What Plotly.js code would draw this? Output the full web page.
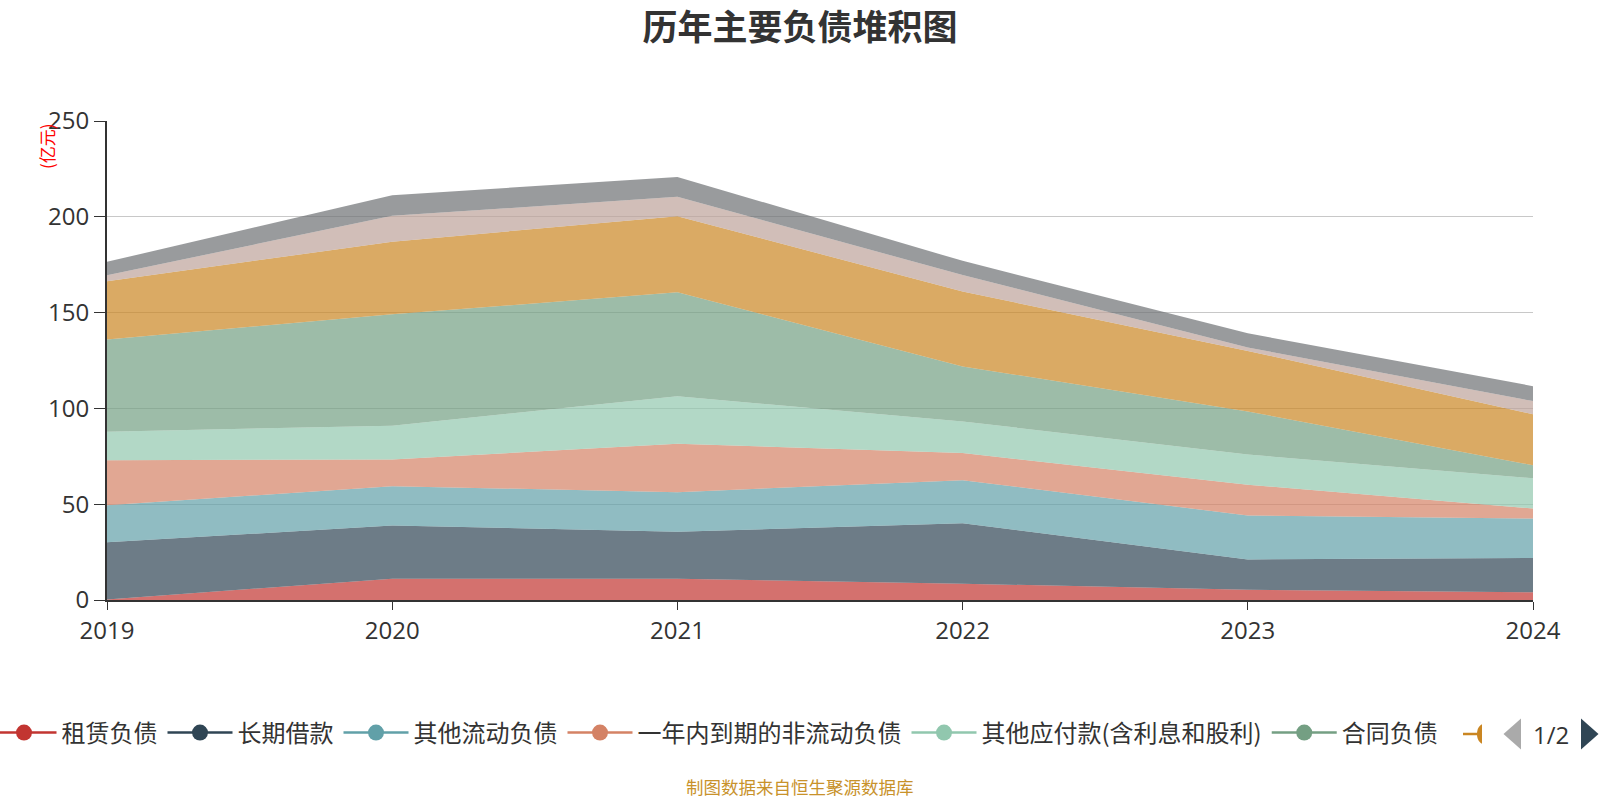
<!DOCTYPE html>
<html>
<head>
<meta charset="utf-8">
<script src="https://cdn.plot.ly/plotly-3.0.1.min.js"></script>
<style>html,body{margin:0;padding:0;background:#fff;}#chart{width:1600px;height:800px;}</style>
</head>
<body>
<div id="chart"></div>
<script>
// ---- data (亿元) ----
const years = [2019, 2020, 2021, 2022, 2023, 2024];
const seriesNames = ["租赁负债", "长期借款", "其他流动负债", "一年内到期的非流动负债", "其他应付款(含利息和股利)", "合同负债", "应付账款", "应付票据", "应付职工薪酬"];
const leaseLiab      = [0.3, 11.1, 11.1, 8.5, 5.3, 4.0];
const longLoans      = [29.8, 27.8, 24.5, 31.5, 15.9, 17.9];
const otherCurrent   = [19.4, 20.5, 20.7, 22.5, 22.9, 20.6];
const dueWithinYear  = [23.5, 13.9, 25.3, 14.2, 16.1, 5.2];
const otherPayables  = [14.8, 17.7, 24.7, 16.5, 15.7, 15.8];
const contractLiab   = [48.2, 58.1, 54.3, 28.7, 22.5, 6.8];
const accountsPay    = [30.4, 37.9, 39.7, 39.1, 31.6, 26.6];
const notesPay       = [3.1, 13.5, 10.1, 8.6, 1.8, 6.9];
const staffPay       = [7.0, 10.8, 10.4, 7.4, 7.4, 7.8];
const yTicks = [0, 50, 100, 150, 200, 250];

const allSeries = [leaseLiab, longLoans, otherCurrent, dueWithinYear, otherPayables, contractLiab, accountsPay, notesPay, staffPay];
const colors = ['#c23531','#2f4554','#61a0a8','#d48265','#91c7ae','#749f83','#ca8622','#bda29a','#6e7074'];

function rgba(hex, a){
  const r=parseInt(hex.slice(1,3),16), g=parseInt(hex.slice(3,5),16), b=parseInt(hex.slice(5,7),16);
  return `rgba(${r},${g},${b},${a})`;
}

const traces = [];
allSeries.forEach((vals, i) => {
  traces.push({
    type: 'scatter', x: years, y: vals, name: seriesNames[i],
    stackgroup: 'one', mode: 'lines',
    line: {width: 0, color: colors[i], shape: 'linear'},
    fillcolor: rgba(colors[i], 0.7),
    showlegend: false,
    hovertemplate: '%{x}: %{y}亿元<extra>' + seriesNames[i] + '</extra>'
  });
});
// legend entries (first page of legend shows six)
for (let i = 0; i < 6; i++) {
  traces.push({
    type: 'scatter', x: [null], y: [null], name: seriesNames[i],
    mode: 'lines+markers',
    line: {width: 2.5, color: colors[i]},
    marker: {size: 16, color: colors[i]},
    showlegend: true, hoverinfo: 'skip'
  });
}

const L = 107, R = 1533, T = 121, B = 600;
const W = R - L, H = B - T;
const px = v => (v - L) / W;
const py = v => (B - v) / H;

const layout = {
  width: 1600, height: 800,
  margin: {l: L, r: 1600 - R, t: T, b: 800 - B, autoexpand: false},
  paper_bgcolor: '#fff', plot_bgcolor: '#fff',
  font: {family: '"Noto Sans CJK SC", "Noto Sans", sans-serif', color: '#333'},
  title: {
    text: '<b>历年主要负债堆积图</b>',
    font: {size: 35, color: '#333', family: '"Noto Sans CJK SC", sans-serif'},
    x: 0.5, xanchor: 'center', y: 1 - 28/800, yanchor: 'middle', yref: 'container', xref: 'container'
  },
  xaxis: {
    range: [2019, 2024], tickvals: years, ticktext: years.map(String),
    showgrid: false, zeroline: false,
    showline: true, linecolor: '#333', linewidth: 2,
    ticks: 'outside', ticklen: 8, tickcolor: '#333',
    tickfont: {size: 24, color: '#333', family: '"Open Sans", "Noto Sans", sans-serif'}
  },
  yaxis: {
    range: [0, 250], tickvals: yTicks, ticktext: yTicks.map(String),
    showgrid: true, gridcolor: '#c8c8c8', gridwidth: 1.3, zeroline: false,
    showline: true, linecolor: '#333', linewidth: 2,
    ticks: 'outside', ticklen: 11, tickcolor: '#333',
    tickfont: {size: 24, color: '#333', family: '"Open Sans", "Noto Sans", sans-serif'}
  },
  showlegend: true,
  legend: {
    orientation: 'h', traceorder: 'normal', itemwidth: 65,
    x: px(-13.5), xanchor: 'left', y: py(733), yanchor: 'middle',
    font: {size: 24, color: '#333', family: '"Noto Sans CJK SC", sans-serif'},
    bgcolor: 'rgba(0,0,0,0)', itemclick: false, itemdoubleclick: false
  },
  annotations: [
    {text: '(亿元)', xref: 'paper', yref: 'paper', x: px(46), y: py(146),
     showarrow: false, textangle: -90, font: {size: 17, color: '#ff0000'},
     xanchor: 'center', yanchor: 'middle'},
    {text: '制图数据来自恒生聚源数据库', xref: 'paper', yref: 'paper', x: px(800), y: py(786),
     showarrow: false, font: {size: 17.5, color: '#c8922b'}, xanchor: 'center', yanchor: 'middle', borderpad: 0},
    {text: '1/2', xref: 'paper', yref: 'paper', x: px(1551), y: py(734),
     showarrow: false, font: {size: 24, color: '#333', family: '"Open Sans", sans-serif'}, xanchor: 'center', yanchor: 'middle'}
  ],
  shapes: [
    {type: 'path', xref: 'paper', yref: 'paper', xsizemode: 'pixel', ysizemode: 'pixel',
     xanchor: px(1512), yanchor: py(734), path: 'M 9 15.5 L -8.5 0 L 9 -15.5 Z',
     fillcolor: '#aaaaaa', line: {width: 0}},
    {type: 'path', xref: 'paper', yref: 'paper', xsizemode: 'pixel', ysizemode: 'pixel',
     xanchor: px(1590), yanchor: py(734), path: 'M -9 15.5 L 8.5 0 L -9 -15.5 Z',
     fillcolor: '#2f4554', line: {width: 0}},
    {type: 'line', xref: 'paper', yref: 'paper', x0: px(1463), x1: px(1478), y0: py(734), y1: py(734),
     line: {color: '#ca8622', width: 2.5}},
    {type: 'path', xref: 'paper', yref: 'paper', xsizemode: 'pixel', ysizemode: 'pixel',
     xanchor: px(1477), yanchor: py(734), path: 'M 5 -9.7 C 1.5 -8 0 -4 0 0 C 0 4 1.5 8 5 9.7 Z',
     fillcolor: '#ca8622', line: {width: 0}}
  ]
};

Plotly.newPlot('chart', traces, layout, {displayModeBar: false, staticPlot: true});
</script>
</body>
</html>
